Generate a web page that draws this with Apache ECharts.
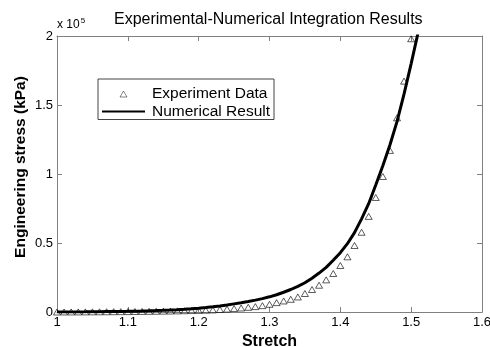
<!DOCTYPE html>
<html>
<head>
<meta charset="utf-8">
<script src="https://cdn.jsdelivr.net/npm/echarts@6/dist/echarts.min.js"></script>
<style>
html,body{margin:0;padding:0;background:#fff;}
#chart{width:490px;height:347px;}
</style>
</head>
<body>
<div id="chart"></div>
<script>
// Stretch values (x) for the experiment and the numerical curve
var stretchExp = [1.00,1.01,1.02,1.03,1.04,1.05,1.06,1.07,1.08,1.09,
  1.10,1.11,1.12,1.13,1.14,1.15,1.16,1.17,1.18,1.19,
  1.20,1.21,1.22,1.23,1.24,1.25,1.26,1.27,1.28,1.29,
  1.30,1.31,1.32,1.33,1.34,1.35,1.36,1.37,1.38,1.39,
  1.40,1.41,1.42,1.43,1.44,1.45,1.46,1.47,1.48,1.49,1.50];
var stressExp = [0,10,30,50,80,110,140,180,220,260,
  310,360,420,480,550,630,720,820,930,1050,
  1150,1300,1500,1800,2100,2500,2900,3400,3900,4600,
  5600,6800,8000,9200,10900,13400,16300,19400,23300,27900,
  33700,40000,48200,57800,69300,83000,98200,117100,140700,167300,198000];

var stretchNum = [1.00,1.01,1.02,1.03,1.04,1.05,1.06,1.07,1.08,1.09,
  1.10,1.11,1.12,1.13,1.14,1.15,1.16,1.17,1.18,1.19,
  1.20,1.21,1.22,1.23,1.24,1.25,1.26,1.27,1.28,1.29,
  1.30,1.31,1.32,1.33,1.34,1.35,1.36,1.37,1.38,1.39,
  1.40,1.41,1.42,1.43,1.44,1.45,1.46,1.47,1.48,1.49,1.50,1.51,1.52];
var stressNum = [0,20,50,90,130,180,230,290,360,430,
  510,610,720,850,1000,1180,1400,1650,1950,2300,
  2750,3250,3800,4400,5100,5900,6700,7600,8600,9700,
  11000,12500,14300,16300,18600,21200,24500,28200,32300,37500,
  43000,49500,57500,67500,78500,92000,106000,121000,138000,158000,180000,203000,228000];

var xTicks = [1, 1.6, 0.1];       // min, max, interval
var yTicks = [0, 200000, 50000];  // min, max, interval
var seriesNames = ['Experiment Data', 'Numerical Result'];

var expData = stretchExp.map(function (x, i) { return [x, stressExp[i]]; });
var numData = stretchNum.map(function (x, i) { return [x, stressNum[i]]; });

var axisColor = '#808080';
var font = 'Liberation Sans, Arial, sans-serif';

var chart = echarts.init(document.getElementById('chart'), null, {renderer: 'canvas'});
chart.setOption({
  animation: false,
  backgroundColor: '#fff',
  title: [{
    text: 'Experimental-Numerical Integration Results',
    left: 114, top: 12, padding: 0,
    textStyle: {fontFamily: font, fontSize: 16, fontWeight: 'normal', color: '#000'}
  }, {
    text: '{a|x 10}{b|5}',
    left: 57, top: 17, padding: 0,
    textStyle: {
      fontWeight: 'normal',
      rich: {
        a: {fontFamily: font, fontSize: 12, fontWeight: 'normal', color: '#000', verticalAlign: 'bottom', lineHeight: 14},
        b: {fontFamily: font, fontSize: 8, fontWeight: 'normal', color: '#000', verticalAlign: 'top', lineHeight: 14, padding: [0, 0, 6, 1]}
      }
    }
  }],
  legend: {
    orient: 'vertical',
    left: 98, top: 79,
    data: [
      {name: seriesNames[0], icon: 'path://M0,6 L3.5,0 L7,6 Z',
        itemStyle: {color: 'rgba(255,255,255,0)', borderColor: '#000', borderWidth: 0.6}},
      {name: seriesNames[1]}
    ],
    selectedMode: false,
    symbolKeepAspect: true,
    backgroundColor: '#fff',
    borderColor: '#444',
    borderWidth: 1,
    borderRadius: 0,
    padding: [7, 4, 0, 3],
    itemGap: 1.5,
    itemWidth: 43,
    itemHeight: 6,
    textStyle: {fontFamily: font, fontSize: 15.5, lineHeight: 12, color: '#000', padding: [0, 0, 0, 2]}
  },
  grid: {left: 57, right: 8, top: 36, bottom: 35, containLabel: false, outerBoundsMode: 'none'},
  xAxis: [{
    type: 'value', min: xTicks[0], max: xTicks[1], interval: xTicks[2],
    position: 'bottom',
    name: 'Stretch', nameLocation: 'middle', nameGap: 20,
    nameTextStyle: {fontFamily: font, fontSize: 16, fontWeight: 'bold', color: '#000'},
    axisLine: {show: true, onZero: false, lineStyle: {color: axisColor, width: 1}},
    axisTick: {show: true, inside: true, length: 5, lineStyle: {color: axisColor}},
    axisLabel: {fontFamily: font, fontSize: 13, color: '#000', margin: 4,
      formatter: function (v) { return String(+v.toFixed(1)); }},
    splitLine: {show: false}
  }, {
    type: 'value', min: xTicks[0], max: xTicks[1], interval: xTicks[2],
    position: 'top',
    axisLine: {show: true, onZero: false, lineStyle: {color: axisColor, width: 1}},
    axisTick: {show: true, inside: true, length: 5, lineStyle: {color: axisColor}},
    axisLabel: {show: false},
    splitLine: {show: false}
  }],
  yAxis: [{
    type: 'value', min: yTicks[0], max: yTicks[1], interval: yTicks[2],
    position: 'left',
    name: 'Engineering stress (kPa)', nameLocation: 'middle', nameGap: 28,
    nameMoveOverlap: false,
    nameTextStyle: {fontFamily: font, fontSize: 15.5, fontWeight: 'bold', color: '#000', padding: [0, 0, 0, 14]},
    axisLine: {show: true, onZero: false, lineStyle: {color: axisColor, width: 1}},
    axisTick: {show: true, inside: true, length: 5, lineStyle: {color: axisColor}},
    axisLabel: {fontFamily: font, fontSize: 13, color: '#000', margin: 4,
      formatter: function (v) { return String(+(v / 1e5).toFixed(1)); }},
    splitLine: {show: false}
  }, {
    type: 'value', min: yTicks[0], max: yTicks[1], interval: yTicks[2],
    position: 'right',
    axisLine: {show: true, onZero: false, lineStyle: {color: axisColor, width: 1}},
    axisTick: {show: true, inside: true, length: 5, lineStyle: {color: axisColor}},
    axisLabel: {show: false},
    splitLine: {show: false}
  }],
  series: [{
    name: seriesNames[0],
    type: 'scatter',
    xAxisIndex: 0, yAxisIndex: 0,
    data: expData,
    symbol: 'triangle',
    symbolSize: [7, 6],
    itemStyle: {color: 'rgba(255,255,255,0)', borderColor: '#000', borderWidth: 0.8}
  }, {
    name: seriesNames[1],
    type: 'line',
    xAxisIndex: 0, yAxisIndex: 0,
    data: numData,
    symbol: 'none',
    showSymbol: false,
    clip: true,
    lineStyle: {color: '#000', width: 3},
    itemStyle: {color: 'rgba(0,0,0,0)', borderWidth: 0}
  }]
});
</script>
</body>
</html>
